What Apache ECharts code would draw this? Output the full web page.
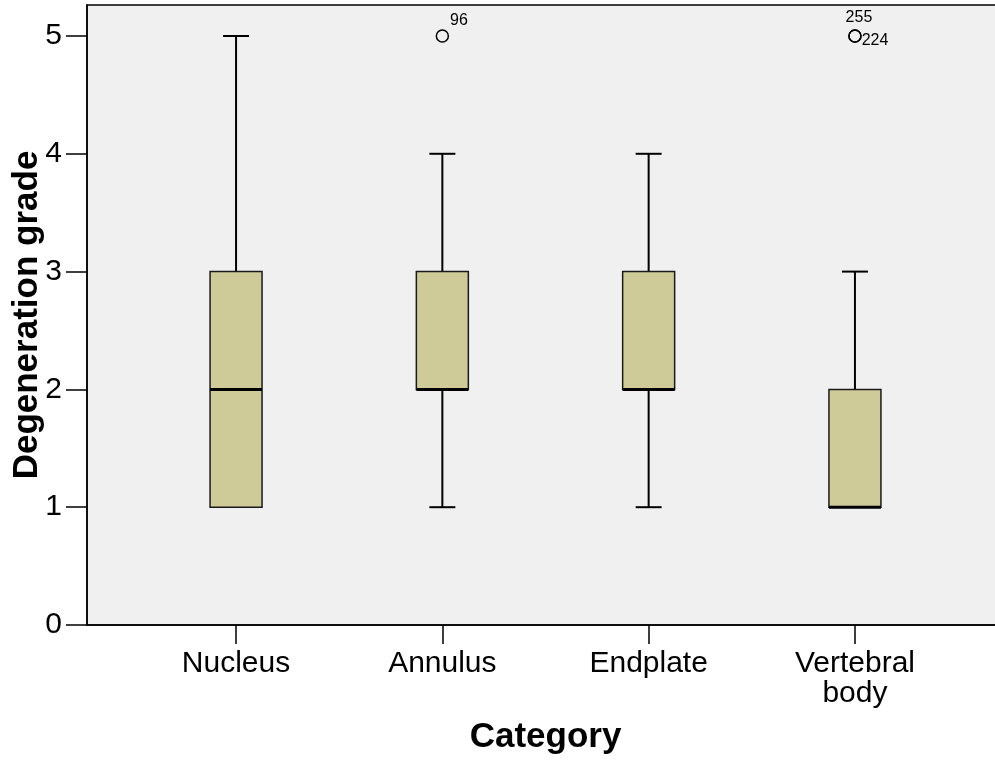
<!DOCTYPE html>
<html>
<head>
<meta charset="utf-8">
<script src="https://cdn.jsdelivr.net/npm/echarts@6/dist/echarts.min.js"></script>
<style>
html,body{margin:0;padding:0;background:#fff;}
#chart{width:995px;height:762px;}
</style>
</head>
<body>
<div id="chart"></div>
<script>
// ---- Data ----
const categories = ['Nucleus', 'Annulus', 'Endplate', 'Vertebral\nbody'];
const whiskerMin = [1, 1, 1, 1];
const q1 = [1, 2, 2, 1];
const medians = [2, 2, 2, 1];
const q3 = [3, 3, 3, 2];
const whiskerMax = [5, 4, 4, 3];
const outlierCategory = [1, 3, 3];
const outlierValue = [5, 5, 5];
const outlierLabel = ['96', '255', '224'];
const yTicks = [0, 1, 2, 3, 4, 5];
const xTicks = [0, 1, 2, 3];

// ---- Build ----
const FONT = 'Liberation Sans, Arial, Helvetica, sans-serif';
const boxData = categories.map((c, i) => [i, whiskerMin[i], q1[i], medians[i], q3[i], whiskerMax[i]]);

const labelStyles = {
  '96':  { position: 'right', distance: 1, offset: [0, -15] },
  '255': { position: 'top', distance: 4, offset: [4, 0] },
  '224': { position: 'right', distance: 0, offset: [0, 5] }
};
const outlierData = outlierCategory.map((c, i) => ({
  value: [c, outlierValue[i]],
  label: Object.assign({
    show: true, formatter: outlierLabel[i], fontSize: 16, color: '#000', fontFamily: FONT
  }, labelStyles[outlierLabel[i]])
}));

function renderBox(params, api) {
  const x = api.value(0);
  const vMin = api.value(1), vQ1 = api.value(2), vMed = api.value(3), vQ3 = api.value(4), vMax = api.value(5);
  const unit = api.size([1, 0])[0];
  const halfBox = unit * 0.126;
  const halfCap = unit * 0.063;
  const pMin = api.coord([x, vMin]), pQ1 = api.coord([x, vQ1]), pMed = api.coord([x, vMed]);
  const pQ3 = api.coord([x, vQ3]), pMax = api.coord([x, vMax]);
  const cx = pMed[0];
  const lineStyle = { stroke: '#000', lineWidth: 2 };
  const children = [];
  if (vMax > vQ3) {
    children.push({ type: 'line', shape: { x1: cx, y1: pQ3[1], x2: cx, y2: pMax[1] }, style: lineStyle });
    children.push({ type: 'line', shape: { x1: cx - halfCap, y1: pMax[1], x2: cx + halfCap, y2: pMax[1] }, style: lineStyle });
  }
  if (vMin < vQ1) {
    children.push({ type: 'line', shape: { x1: cx, y1: pQ1[1], x2: cx, y2: pMin[1] }, style: lineStyle });
    children.push({ type: 'line', shape: { x1: cx - halfCap, y1: pMin[1], x2: cx + halfCap, y2: pMin[1] }, style: lineStyle });
  }
  children.push({
    type: 'rect',
    shape: { x: cx - halfBox, y: pQ3[1], width: halfBox * 2, height: pQ1[1] - pQ3[1] },
    style: { fill: '#cecb98', stroke: '#1a1a1a', lineWidth: 1.5 }
  });
  children.push({
    type: 'line',
    shape: { x1: cx - halfBox, y1: pMed[1], x2: cx + halfBox, y2: pMed[1] },
    style: { stroke: '#000', lineWidth: 3 }
  });
  return { type: 'group', children };
}

const chart = echarts.init(document.getElementById('chart'), null, { renderer: 'canvas' });
chart.setOption({
  animation: false,
  backgroundColor: '#ffffff',
  grid: {
    left: 87, top: 5, right: -9, bottom: 137,
    outerBoundsMode: 'none',
    containLabel: false,
    show: true, backgroundColor: '#f0f0f0', borderColor: '#000', borderWidth: 1.5
  },
  xAxis: {
    type: 'value',
    min: -0.7225, max: 3.7225,
    name: 'Category',
    nameLocation: 'middle',
    nameGap: 95,
    nameMoveOverlap: false,
    nameTextStyle: { fontSize: 35, fontWeight: 'bold', color: '#000', fontFamily: FONT },
    axisLine: { show: true, onZero: false, lineStyle: { color: '#000', width: 1.5 } },
    axisTick: { show: true, length: 19, customValues: xTicks, lineStyle: { color: '#000', width: 1.5 } },
    axisLabel: {
      customValues: xTicks,
      formatter: v => categories[Math.round(v)],
      fontSize: 30, color: '#000', fontFamily: FONT, margin: 24, lineHeight: 30
    },
    splitLine: { show: false }
  },
  yAxis: {
    type: 'value',
    min: 0, max: 5.263,
    name: 'Degeneration grade',
    nameLocation: 'middle',
    nameGap: 42,
    nameMoveOverlap: false,
    nameTextStyle: { fontSize: 35, fontWeight: 'bold', color: '#000', fontFamily: FONT },
    axisLine: { show: true, onZero: false, lineStyle: { color: '#000', width: 1.5 } },
    axisTick: { show: true, length: 21, customValues: yTicks, lineStyle: { color: '#000', width: 1.5 } },
    axisLabel: {
      customValues: yTicks,
      fontSize: 30, color: '#000', fontFamily: FONT, margin: 25
    },
    splitLine: { show: false }
  },
  series: [
    {
      type: 'custom',
      data: boxData,
      encode: { x: 0, y: [1, 2, 3, 4, 5] },
      renderItem: renderBox,
      z: 2
    },
    {
      type: 'scatter',
      data: outlierData,
      symbol: 'circle',
      symbolSize: 12,
      itemStyle: { color: 'transparent', borderColor: '#000', borderWidth: 1.5, opacity: 1 },
      z: 3
    }
  ]
});
</script>
</body>
</html>
